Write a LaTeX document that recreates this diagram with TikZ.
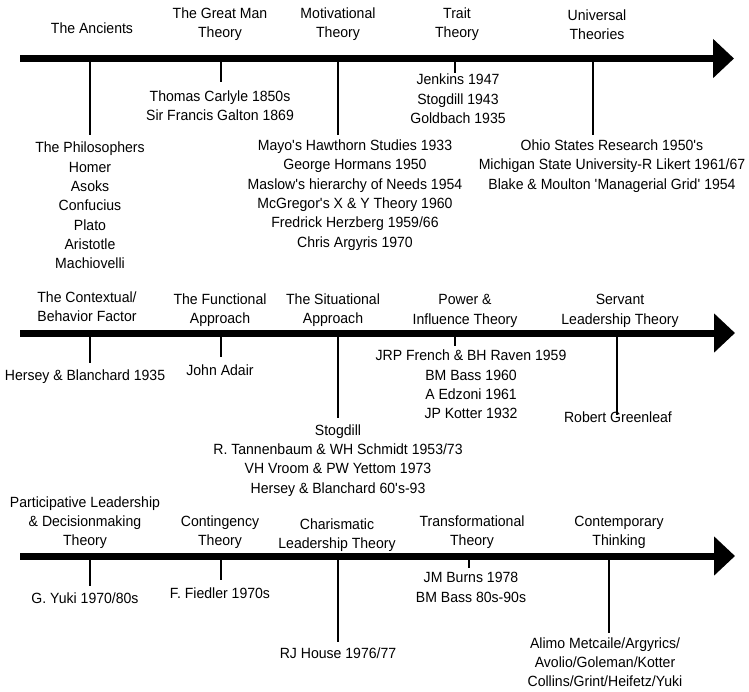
\documentclass[tikz,border=0pt]{standalone}
\usepackage{fontspec}
\setmainfont{Liberation Sans}[FakeStretch=0.95]
\usepackage{tikz}
\usetikzlibrary{arrows.meta,positioning}
\newcommand{\sq}{\textquotesingle}

\begin{document}
\begin{tikzpicture}[x=1pt,y=-1pt,
    lbl/.style={align=center,inner sep=0pt,font=\fontsize{14.8}{19.3}\selectfont},
    timeline/.style={line width=7pt,-{Triangle[length=21pt,width=38pt]}},
    stem/.style={line width=2pt}]
    \useasboundingbox (0,0) rectangle (749,691);

    % first line
    \coordinate (s1) at (20,58.5);
    \coordinate (e1) at (734,58.5);
    \draw[timeline] (s1) -- (e1);

    \node[lbl] (anc) at (92,28) {The Ancients};
    \node[lbl] (gm) at (220,24.5) {The Great Man\\Theory};
    \node[lbl] (mot) at (338,24.5) {Motivational\\Theory};
    \node[lbl] (trt) at (457,24.5) {Trait\\Theory};
    \node[lbl] (uni) at (597,24.5) {Universal\\Theories};

    \coordinate (ancT) at (90,58.5);  \coordinate (ancE) at (90,135);
    \coordinate (gmT) at (220.7,58.5); \coordinate (gmE) at (220.7,82);
    \coordinate (motT) at (338,58.5); \coordinate (motE) at (338,135);
    \coordinate (trtT) at (455,58.5); \coordinate (trtE) at (455,73);
    \coordinate (uniT) at (593,58.5); \coordinate (uniE) at (593,135);
    \draw[stem] (ancT) -- (ancE);
    \draw[stem] (gmT) -- (gmE);
    \draw[stem] (motT) -- (motE);
    \draw[stem] (trtT) -- (trtE);
    \draw[stem] (uniT) -- (uniE);

    \node[lbl] (ancB) at (90,205.5) {The Philosophers\\Homer\\Asoks\\Confucius\\Plato\\Aristotle\\Machiovelli};
    \node[lbl] (gmB) at (220,105.5) {Thomas Carlyle 1850s\\Sir Francis Galton 1869};
    \node[lbl] (motB) at (355,195) {Mayo\sq s Hawthorn Studies 1933\\George Hormans 1950\\Maslow\sq s hierarchy of Needs 1954\\McGregor\sq s X \& Y Theory 1960\\Fredrick Herzberg 1959/66\\Chris Argyris 1970};
    \node[lbl] (trtB) at (458,99) {Jenkins 1947\\Stogdill 1943\\Goldbach 1935};
    \node[lbl] (uniB) at (612,166) {Ohio States Research 1950\sq s\\Michigan State University-R Likert 1961/67\\Blake \& Moulton \sq Managerial Grid\sq\ 1954};

    % second line
    \coordinate (s2) at (20,333);
    \coordinate (e2) at (735,333);
    \draw[timeline] (s2) -- (e2);

    \node[lbl] (ctx) at (87,306.5) {The Contextual/\\Behavior Factor};
    \node[lbl] (fun) at (220,310.5) {The Functional\\Approach};
    \node[lbl] (sit) at (333,310.5) {The Situational\\Approach};
    \node[lbl] (pow) at (465,311) {Power \&\\Influence Theory};
    \node[lbl] (ser) at (620,311) {Servant\\Leadership Theory};

    \coordinate (ctxT) at (90,333);  \coordinate (ctxE) at (90,363);
    \coordinate (funT) at (220.7,333); \coordinate (funE) at (220.7,357);
    \coordinate (sitT) at (338,333); \coordinate (sitE) at (338,418);
    \coordinate (powT) at (455,333); \coordinate (powE) at (455,346);
    \coordinate (serT) at (617,333); \coordinate (serE) at (617,415);
    \draw[stem] (ctxT) -- (ctxE);
    \draw[stem] (funT) -- (funE);
    \draw[stem] (sitT) -- (sitE);
    \draw[stem] (powT) -- (powE);
    \draw[stem] (serT) -- (serE);

    \node[lbl] (ctxB) at (85,377) {Hersey \& Blanchard 1935};
    \node[lbl] (funB) at (220,370) {John Adair};
    \node[lbl] (sitB) at (338,460.5) {Stogdill\\R. Tannenbaum \& WH Schmidt 1953/73\\VH Vroom \& PW Yettom 1973\\Hersey \& Blanchard 60\sq s-93};
    \node[lbl] (powB) at (471,384.5) {JRP French \& BH Raven 1959\\BM Bass 1960\\A Edzoni 1961\\JP Kotter 1932};
    \node[lbl] (serB) at (618,417) {Robert Greenleaf};

    % third line
    \coordinate (s3) at (20,556);
    \coordinate (e3) at (735,556);
    \draw[timeline] (s3) -- (e3);

    \node[lbl] (par) at (85,522.5) {Participative Leadership\\\& Decisionmaking\\Theory};
    \node[lbl] (con) at (220,532.5) {Contingency\\Theory};
    \node[lbl] (cha) at (337,535.5) {Charismatic\\Leadership Theory};
    \node[lbl] (trf) at (472,532.5) {Transformational\\Theory};
    \node[lbl] (ctp) at (619,532.5) {Contemporary\\Thinking};

    \coordinate (parT) at (90,556);  \coordinate (parE) at (90,586);
    \coordinate (conT) at (220.7,556); \coordinate (conE) at (220.7,580);
    \coordinate (chaT) at (338,556); \coordinate (chaE) at (338,642);
    \coordinate (trfT) at (469,556); \coordinate (trfE) at (469,568);
    \coordinate (ctpT) at (609,556); \coordinate (ctpE) at (609,633);
    \draw[stem] (parT) -- (parE);
    \draw[stem] (conT) -- (conE);
    \draw[stem] (chaT) -- (chaE);
    \draw[stem] (trfT) -- (trfE);
    \draw[stem] (ctpT) -- (ctpE);

    \node[lbl] (parB) at (85,598) {G. Yuki 1970/80s};
    \node[lbl] (conB) at (220,593) {F. Fiedler 1970s};
    \node[lbl] (chaB) at (338,653) {RJ House 1976/77};
    \node[lbl] (trfB) at (471,587.5) {JM Burns 1978\\BM Bass 80s-90s};
    \node[lbl] (ctpB) at (605,662) {Alimo Metcaile/Argyrics/\\Avolio/Goleman/Kotter\\Collins/Grint/Heifetz/Yuki};
\end{tikzpicture}
\end{document}
